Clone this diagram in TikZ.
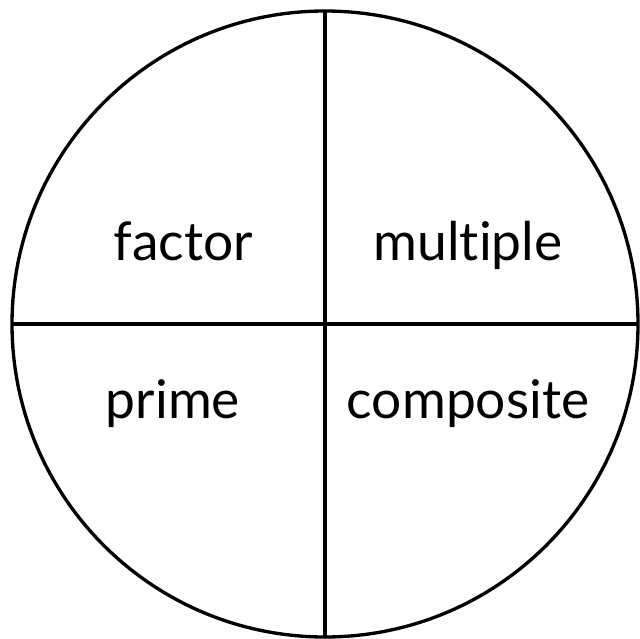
\documentclass[tikz,border=0pt]{standalone}
\usepackage{fontspec}
\setmainfont{Lato}[Ligatures={NoCommon,NoRare}]
\usepackage{tikz}

\begin{document}
\begin{tikzpicture}[x=0.75pt, y=-0.75pt, line width=2.5pt,
        word/.style={anchor=base, inner sep=0pt, font=\fontsize{40}{48}\selectfont}]
        \useasboundingbox (0,0) rectangle (640,639);

        \coordinate (c) at (325,324);
        \coordinate (top) at (325,11);
        \coordinate (bot) at (325,637);
        \coordinate (lft) at (12,324);
        \coordinate (rgt) at (638,324);

        \draw (c) circle [radius=234.75pt];
        \draw (top) -- (bot);
        \draw (lft) -- (rgt);

        \node[word] (factor) at (183,260) {factor};
        \node[word] (multiple) at (468,260) {multiple};
        \node[word] (prime) at (173,418) {prime};
        \node[word] (composite) at (468,418) {composite};
\end{tikzpicture}
\end{document}
